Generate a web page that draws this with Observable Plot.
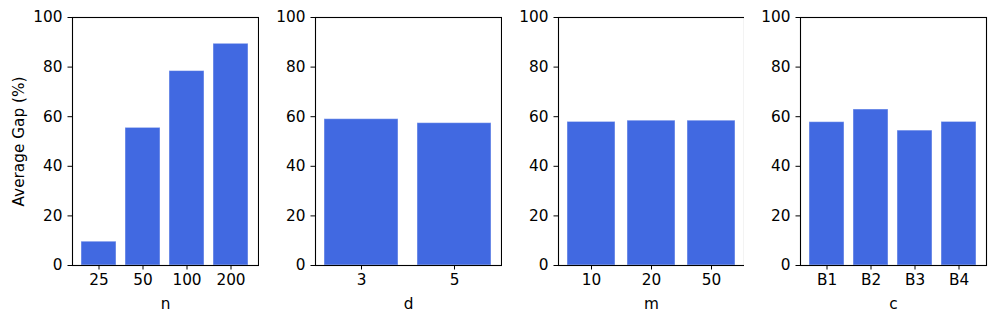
<!DOCTYPE html>
<html>
<head>
<meta charset="utf-8">
<script src="https://cdn.jsdelivr.net/npm/d3@7"></script>
<script src="https://cdn.jsdelivr.net/npm/@observablehq/plot@0.6"></script>
<style>
  html, body { margin: 0; padding: 0; background: #fff; }
  #chart { position: relative; width: 997px; height: 324px; }
  #chart svg { position: absolute; top: 0; }
  #chart svg text { font-family: "DejaVu Sans", sans-serif; }
</style>
</head>
<body>
<div id="chart"></div>
<script>
const nCats = ["25", "50", "100", "200"];
const nVals = [9.6, 55.5, 78.4, 89.4];
const dCats = ["3", "5"];
const dVals = [59.0, 57.4];
const mCats = ["10", "20", "50"];
const mVals = [57.9, 58.4, 58.4];
const cCats = ["B1", "B2", "B3", "B4"];
const cVals = [57.8, 62.9, 54.4, 57.9];
const yTicks = [0, 20, 40, 60, 80, 100];

const panels = [
  {label: "n", cats: nCats, vals: nVals},
  {label: "d", cats: dCats, vals: dVals},
  {label: "m", cats: mCats, vals: mVals},
  {label: "c", cats: cCats, vals: cVals}
];

const frameW = 186;
const fs = 15.3;
const container = document.getElementById("chart");
const font = "'DejaVu Sans', sans-serif";

panels.forEach((p, i) => {
  const frameLeft = 72 + i * 242.8;
  const marginLeft = i === 0 ? 72 : 56;
  const svgLeft = frameLeft - marginLeft;
  const marginRight = 4;
  const width = marginLeft + frameW + marginRight;
  const data = p.cats.map((c, k) => ({cat: c, val: p.vals[k]}));
  const n = p.cats.length;
  const outer = 0.05 * (n - 0.2);
  const marks = [
    Plot.barY(data, {x: "cat", y: "val", fill: "#4169E1", stroke: "white", strokeOpacity: 0.45, strokeWidth: 1}),
    Plot.frame({stroke: "black", strokeWidth: 1.1}),
    Plot.axisY({ticks: yTicks, tickSize: 4.5, tickPadding: 5.5, fontSize: fs, label: null, stroke: "black"}),
    Plot.axisX({tickSize: 4.5, tickPadding: 4, fontSize: fs, label: p.label, labelAnchor: "center", labelArrow: "none", labelOffset: 43, stroke: "black"})
  ];
  if (i === 0) {
    marks.push(Plot.text(["Average Gap (%)"], {
      frameAnchor: "left", dx: -53, rotate: -90, textAnchor: "middle", fontSize: fs, fill: "black"
    }));
  }
  const svg = Plot.plot({
    width,
    height: 324,
    marginLeft,
    marginRight,
    marginTop: 17,
    marginBottom: 59,
    style: {fontFamily: font, fontSize: fs + "px", color: "black", background: "white", overflow: "visible"},
    x: {domain: p.cats, type: "band", paddingInner: 0.2, paddingOuter: outer, align: 0.5},
    y: {domain: [0, 100]},
    marks
  });
  svg.style.left = svgLeft + "px";
  container.appendChild(svg);
});
</script>
</body>
</html>
